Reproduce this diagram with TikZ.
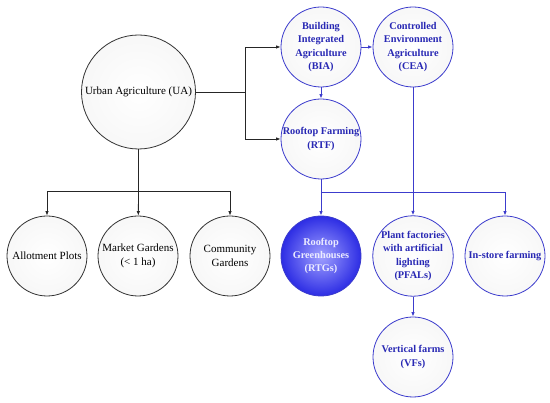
\documentclass[tikz,border=0pt]{standalone}
\usepackage{fontspec}
\setmainfont{Liberation Serif}
\usetikzlibrary{arrows.meta}
\definecolor{bline}{RGB}{60,60,205}
\definecolor{btext}{RGB}{40,40,180}
\definecolor{rtgout}{RGB}{45,45,228}
\definecolor{rtgin}{RGB}{160,160,255}
\definecolor{rtgtext}{RGB}{235,235,255}
\tikzset{
  circ/.style={circle, draw=black!80, line width=0.8pt, minimum size=80pt, inner sep=0pt,
    inner color=white, outer color=gray!6, align=center,
    font=\fontsize{11}{13.3}\selectfont},
  bcirc/.style={circ, draw=bline, text=btext, font=\bfseries\fontsize{10.3}{13.3}\selectfont},
  conn/.style={line width=0.8pt, black!85},
  arr/.style={conn, -{Latex[length=4.5pt,width=3.5pt]}},
  bconn/.style={line width=0.9pt, bline},
  barr/.style={bconn, -{Latex[length=4.5pt,width=3.5pt]}}
}
\begin{document}
\begin{tikzpicture}[x=1pt,y=-1pt]
\useasboundingbox (0,0) rectangle (550,403);
\fill[white] (0,0) rectangle (550,403);
% nodes
\node[circ, minimum size=114pt] (UA) at (138.5,92) {Urban Agriculture (UA)};
\node[bcirc] (BIA) at (321,47) {Building\\Integrated\\Agriculture\\(BIA)};
\node[bcirc] (CEA) at (413,47) {Controlled\\Environment\\Agriculture\\(CEA)};
\node[bcirc] (RTF) at (321,139) {Rooftop Farming\\(RTF)};
\node[circ] (AP) at (47,256) {Allotment Plots};
\node[circ] (MG) at (138,256) {Market Gardens\\(< 1 ha)};
\node[circ] (CG) at (230,256) {Community\\Gardens};
\node[bcirc, inner color=rtgin, outer color=rtgout, text=rtgtext] (RTG) at (321,256) {Rooftop\\Greenhouses\\(RTGs)};
\node[bcirc] (PF) at (413,256) {Plant factories\\with artificial\\lighting\\(PFALs)};
\node[bcirc] (IS) at (505,256) {In-store farming};
\node[bcirc] (VF) at (413,357) {Vertical farms\\(VFs)};
% junctions
\coordinate (j1) at (245,92);
\coordinate (j2) at (138.5,191);
\coordinate (j3) at (321,192);
% black connectors
\draw[conn] (UA.east) -- (j1);
\draw[arr] (j1) |- (BIA);
\draw[arr] (j1) |- (RTF);
\draw[conn] (UA.south) -- (j2);
\draw[arr] (j2) -| (AP);
\draw[arr] (j2) -- (MG);
\draw[arr] (j2) -| (CG);
% blue connectors
\draw[barr] (BIA) -- (CEA);
\draw[barr] (BIA) -- (RTF);
\draw[bconn] (RTF) -- (j3);
\draw[barr] (j3) -- (RTG);
\draw[barr] (j3) -| (IS);
\draw[barr] (CEA) -- (PF);
\draw[barr] (PF) -- (VF);
\end{tikzpicture}
\end{document}
